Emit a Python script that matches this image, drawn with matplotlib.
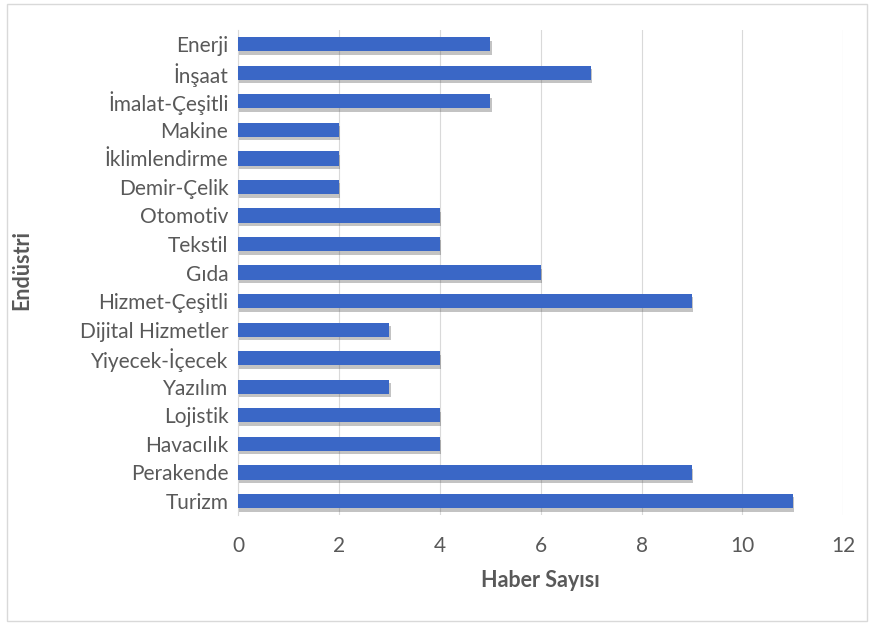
import matplotlib.pyplot as plt
import matplotlib.patheffects as pe
from matplotlib.patches import Rectangle

industries = [
    "Enerji", "İnşaat", "İmalat-Çeşitli", "Makine", "İklimlendirme",
    "Demir-Çelik", "Otomotiv", "Tekstil", "Gıda", "Hizmet-Çeşitli",
    "Dijital Hizmetler", "Yiyecek-İçecek", "Yazılım", "Lojistik",
    "Havacılık", "Perakende", "Turizm",
]
counts = [5, 7, 5, 2, 2, 2, 4, 4, 6, 9, 3, 4, 3, 4, 4, 9, 11]
x_ticks = [0, 2, 4, 6, 8, 10, 12]

plt.rcParams["font.family"] = ["Lato", "DejaVu Sans"]
text_color = "#595959"

fig = plt.figure(figsize=(8.72, 6.23), dpi=100)
fig.patch.set_facecolor("white")
ax = fig.add_axes([0.273, 0.173, 0.694, 0.779])

# Bars from top to bottom
positions = list(range(len(industries)))
bars = ax.barh(positions, counts, height=0.5, color="#3a67c6", zorder=3)
for b in bars:
    b.set_path_effects([
        pe.SimplePatchShadow(offset=(1, -2.5), shadow_rgbFace="#555555", alpha=0.35),
        pe.Normal(),
    ])

ax.set_ylim(len(industries) - 0.5, -0.5)
ax.set_xlim(0, 12)
ax.set_xticks(x_ticks)
ax.set_yticks(positions)
ax.set_yticklabels(industries)

ax.grid(axis="x", color="#d9d9d9", linewidth=0.8, zorder=0)
for side in ["top", "right", "bottom"]:
    ax.spines[side].set_visible(False)
ax.spines["left"].set_color("#d9d9d9")

ax.tick_params(axis="both", length=0, labelsize=15, colors=text_color)
ax.tick_params(axis="x", pad=15)
ax.tick_params(axis="y", pad=7)

ax.set_xlabel("Haber Sayısı", fontsize=15.5, fontweight="bold", color=text_color)
ax.set_ylabel("Endüstri", fontsize=15.5, fontweight="bold", color=text_color)
ax.xaxis.set_label_coords(0.5, -0.113)
ax.yaxis.set_label_coords(-0.34, 0.505)

# Light frame around the whole chart
fig.patches.append(Rectangle((0.008, 0.004), 0.986, 0.99, transform=fig.transFigure,
                             fill=False, edgecolor="#d9d9d9", linewidth=1))

plt.savefig("out.png", dpi=100)
